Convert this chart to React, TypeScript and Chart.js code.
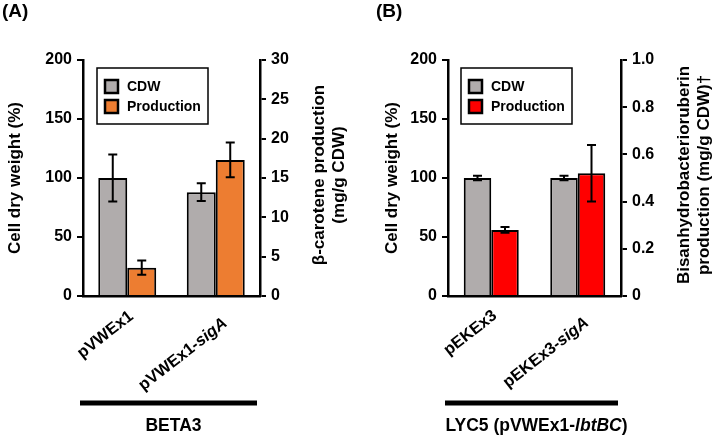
import React, { useEffect, useRef } from 'react';
import { Chart, registerables } from 'chart.js';
Chart.register(...registerables);

// ---- data ----
const categoriesA = ['pVWEx1', 'pVWEx1-sigA'];
const cdwA = [100, 88];
const cdwErrA = [20, 7.5];
const prodA = [3.6, 17.3];
const prodErrA = [0.9, 2.2];

const categoriesB = ['pEKEx3', 'pEKEx3-sigA'];
const cdwB = [100, 100];
const cdwErrB = [2, 2];
const prodB = [0.28, 0.52];
const prodErrB = [0.012, 0.12];

const leftTicks = [0, 50, 100, 150, 200];
const rightTicksA = [0, 5, 10, 15, 20, 25, 30];
const rightTicksB = [0, 0.2, 0.4, 0.6, 0.8, 1.0];

const legendLabels = ['CDW', 'Production'];
const italicWords = /(sigA|lbtBC)/;

const FONT = '"Liberation Sans", Arial, Helvetica, sans-serif';
const GRAY = '#b0acac';
const ORANGE = '#ed7d31';
const RED = '#ff0000';
const LABEL_ANGLE = (38 * Math.PI) / 180;
const LABEL_SIZE = 16.5;

type Seg = { t: string; italic: boolean };
function splitItalic(text: string): Seg[] {
  return text
    .split(italicWords)
    .filter((s) => s.length > 0)
    .map((s) => {
      const m = s.match(italicWords);
      return { t: s, italic: !!m && m[0] === s };
    });
}

function measureRich(ctx: CanvasRenderingContext2D, text: string, size: number) {
  const segs = splitItalic(text);
  let total = 0;
  segs.forEach((s) => {
    ctx.font = `${s.italic ? 'italic ' : ''}bold ${size}px ${FONT}`;
    total += ctx.measureText(s.t).width;
  });
  return total;
}

function drawRich(ctx: CanvasRenderingContext2D, text: string, x: number, y: number, align: 'left' | 'right' | 'center', size: number) {
  const segs = splitItalic(text);
  const fontOf = (s: Seg) => `${s.italic ? 'italic ' : ''}bold ${size}px ${FONT}`;
  let total = 0;
  const widths = segs.map((s) => {
    ctx.font = fontOf(s);
    const w = ctx.measureText(s.t).width;
    total += w;
    return w;
  });
  let cx = align === 'left' ? x : align === 'right' ? x - total : x - total / 2;
  ctx.textAlign = 'left';
  segs.forEach((s, i) => {
    ctx.font = fontOf(s);
    ctx.fillText(s.t, cx, y);
    cx += widths[i];
  });
}

type PanelProps = {
  categories: string[];
  cdw: number[];
  cdwErr: number[];
  prod: number[];
  prodErr: number[];
  prodColor: string;
  rightTicks: number[];
  rightFormat: (v: number) => string;
  leftWidth: number;
  rightWidth: number;
  leftTitleX: number;
  rightTitleX: number[];
  rightTitle: string[];
  groupLabel: string;
  panelLabel: string;
  panelLabelX: number;
  legendX: number;
  catPct: number;
};

const W = 357;
const H = 437;

function Panel(p: PanelProps) {
  const ref = useRef<HTMLCanvasElement | null>(null);
  useEffect(() => {
    const canvas = ref.current!;
    const axisFont = { family: FONT, size: 16, weight: 'bold' as const };
    const overlay = {
      id: 'overlay',
      afterDatasetsDraw(chart: any) {
        const ctx: CanvasRenderingContext2D = chart.ctx;
        ctx.save();
        ctx.strokeStyle = '#000';
        ctx.lineWidth = 2;
        const errs = [p.cdwErr, p.prodErr];
        chart.data.datasets.forEach((ds: any, di: number) => {
          const meta = chart.getDatasetMeta(di);
          const sc = chart.scales[ds.yAxisID];
          meta.data.forEach((bar: any, i: number) => {
            const v = ds.data[i];
            const e = errs[di][i];
            const t = sc.getPixelForValue(v + e);
            const b = sc.getPixelForValue(v - e);
            ctx.beginPath();
            ctx.moveTo(bar.x, t);
            ctx.lineTo(bar.x, b);
            ctx.moveTo(bar.x - 4.5, t);
            ctx.lineTo(bar.x + 4.5, t);
            ctx.moveTo(bar.x - 4.5, b);
            ctx.lineTo(bar.x + 4.5, b);
            ctx.stroke();
          });
        });
        ctx.restore();
      },
      afterDraw(chart: any) {
        const ctx: CanvasRenderingContext2D = chart.ctx;
        const area = chart.chartArea;
        const xs = chart.scales.x;
        const midY = (area.top + area.bottom) / 2;
        ctx.save();
        ctx.fillStyle = '#000';
        // x category labels, rotated
        ctx.textBaseline = 'alphabetic';
        p.categories.forEach((c, i) => {
          const cx = xs.getPixelForValue(i);
          const w = measureRich(ctx, c, LABEL_SIZE);
          ctx.save();
          ctx.translate(cx + 7 + 0.13 * (w - 66), area.bottom + 22 + 0.17 * (w - 66));
          ctx.rotate(-LABEL_ANGLE);
          drawRich(ctx, c, 0, 0, 'right', LABEL_SIZE);
          ctx.restore();
        });
        ctx.textBaseline = 'middle';
        // left title
        ctx.save();
        ctx.translate(p.leftTitleX, midY);
        ctx.rotate(-Math.PI / 2);
        ctx.textAlign = 'center';
        ctx.font = `bold 17px ${FONT}`;
        ctx.fillText('Cell dry weight (%)', 0, 0);
        ctx.restore();
        // right title
        p.rightTitle.forEach((line, i) => {
          ctx.save();
          ctx.translate(p.rightTitleX[i], midY - 3);
          ctx.rotate(-Math.PI / 2);
          ctx.textAlign = 'center';
          ctx.font = `bold 17px ${FONT}`;
          ctx.fillText(line, 0, 0);
          ctx.restore();
        });
        // group bar + label
        ctx.lineWidth = 5;
        ctx.strokeStyle = '#000';
        ctx.beginPath();
        ctx.moveTo(area.left - 3, 403);
        ctx.lineTo(area.right - 3, 403);
        ctx.stroke();
        drawRich(ctx, p.groupLabel, (area.left + area.right) / 2 + 2, 426, 'center', 17.5);
        // panel label
        ctx.textAlign = 'left';
        ctx.font = `bold 19px ${FONT}`;
        ctx.fillText(p.panelLabel, p.panelLabelX, 12);
        // legend
        const lx = p.legendX;
        const ly = area.top + 8;
        ctx.fillStyle = '#fff';
        ctx.fillRect(lx, ly, 111, 56);
        ctx.lineWidth = 1.5;
        ctx.strokeRect(lx, ly, 111, 56);
        const colors = [GRAY, p.prodColor];
        legendLabels.forEach((lab, i) => {
          const sy = ly + 12 + i * 20;
          ctx.fillStyle = colors[i];
          ctx.fillRect(lx + 8, sy, 13, 13);
          ctx.lineWidth = 2.5;
          ctx.strokeRect(lx + 8, sy, 13, 13);
          ctx.fillStyle = '#000';
          ctx.textAlign = 'left';
          ctx.textBaseline = 'middle';
          ctx.font = `bold 14px ${FONT}`;
          ctx.fillText(lab, lx + 30, sy + 7);
        });
        ctx.restore();
      },
    };

    const chart = new Chart(canvas, {
      type: 'bar',
      data: {
        labels: p.categories,
        datasets: [
          {
            label: legendLabels[0],
            data: p.cdw,
            yAxisID: 'y',
            backgroundColor: GRAY,
            borderColor: '#000',
            borderWidth: 2,
            barPercentage: 1,
            categoryPercentage: p.catPct,
          },
          {
            label: legendLabels[1],
            data: p.prod,
            yAxisID: 'y1',
            backgroundColor: p.prodColor,
            borderColor: '#000',
            borderWidth: 2,
            barPercentage: 1,
            categoryPercentage: p.catPct,
          },
        ],
      },
      options: {
        responsive: false,
        animation: false,
        devicePixelRatio: 1,
        layout: { padding: { top: 60, left: 0, right: 0, bottom: 0 } },
        plugins: { legend: { display: false }, tooltip: { enabled: false } },
        scales: {
          x: {
            type: 'category',
            offset: true,
            grid: { display: false },
            border: { display: true, color: '#000', width: 2.5 },
            ticks: { display: false },
            afterFit: (s: any) => {
              s.height = 141;
            },
          },
          y: {
            position: 'left',
            min: leftTicks[0],
            max: leftTicks[leftTicks.length - 1],
            afterBuildTicks: (s: any) => {
              s.ticks = leftTicks.map((v) => ({ value: v }));
            },
            ticks: { color: '#000', font: axisFont, padding: 5 },
            grid: { drawOnChartArea: false, drawTicks: true, tickLength: 6, color: '#000', lineWidth: 2 },
            border: { display: true, color: '#000', width: 2.5 },
            afterFit: (s: any) => {
              s.width = p.leftWidth;
            },
          },
          y1: {
            position: 'right',
            min: p.rightTicks[0],
            max: p.rightTicks[p.rightTicks.length - 1],
            afterBuildTicks: (s: any) => {
              s.ticks = p.rightTicks.map((v) => ({ value: v }));
            },
            ticks: { color: '#000', font: axisFont, padding: 5, callback: (v: any) => p.rightFormat(Number(v)) },
            grid: { drawOnChartArea: false, drawTicks: true, tickLength: 6, color: '#000', lineWidth: 2 },
            border: { display: true, color: '#000', width: 2.5 },
            afterFit: (s: any) => {
              s.width = p.rightWidth;
            },
          },
        },
      },
      plugins: [overlay],
    } as any);
    return () => chart.destroy();
  }, []);
  return <canvas ref={ref} width={W} height={H} style={{ width: W, height: H, display: 'block' }} />;
}

export default function App() {
  return (
    <div style={{ position: 'fixed', left: 0, top: 0, width: 714, height: 437, background: '#fff' }}>
      <div style={{ position: 'absolute', left: 0, top: 0 }}>
        <Panel
          categories={categoriesA}
          cdw={cdwA}
          cdwErr={cdwErrA}
          prod={prodA}
          prodErr={prodErrA}
          prodColor={ORANGE}
          rightTicks={rightTicksA}
          rightFormat={(v) => String(v)}
          leftWidth={83}
          rightWidth={97}
          leftTitleX={15}
          rightTitleX={[319, 339]}
          rightTitle={['β-carotene production', '(mg/g CDW)']}
          groupLabel="BETA3"
          panelLabel="(A)"
          panelLabelX={2}
          legendX={97}
          catPct={0.655}
        />
      </div>
      <div style={{ position: 'absolute', left: 357, top: 0 }}>
        <Panel
          categories={categoriesB}
          cdw={cdwB}
          cdwErr={cdwErrB}
          prod={prodB}
          prodErr={prodErrB}
          prodColor={RED}
          rightTicks={rightTicksB}
          rightFormat={(v) => (v === 0 ? '0' : v.toFixed(1))}
          leftWidth={91}
          rightWidth={93}
          leftTitleX={35}
          rightTitleX={[327, 347]}
          rightTitle={['Bisanhydrobacterioruberin', 'production (mg/g CDW)†']}
          groupLabel="LYC5 (pVWEx1-lbtBC)"
          panelLabel="(B)"
          panelLabelX={19}
          legendX={104}
          catPct={0.636}
        />
      </div>
    </div>
  );
}
